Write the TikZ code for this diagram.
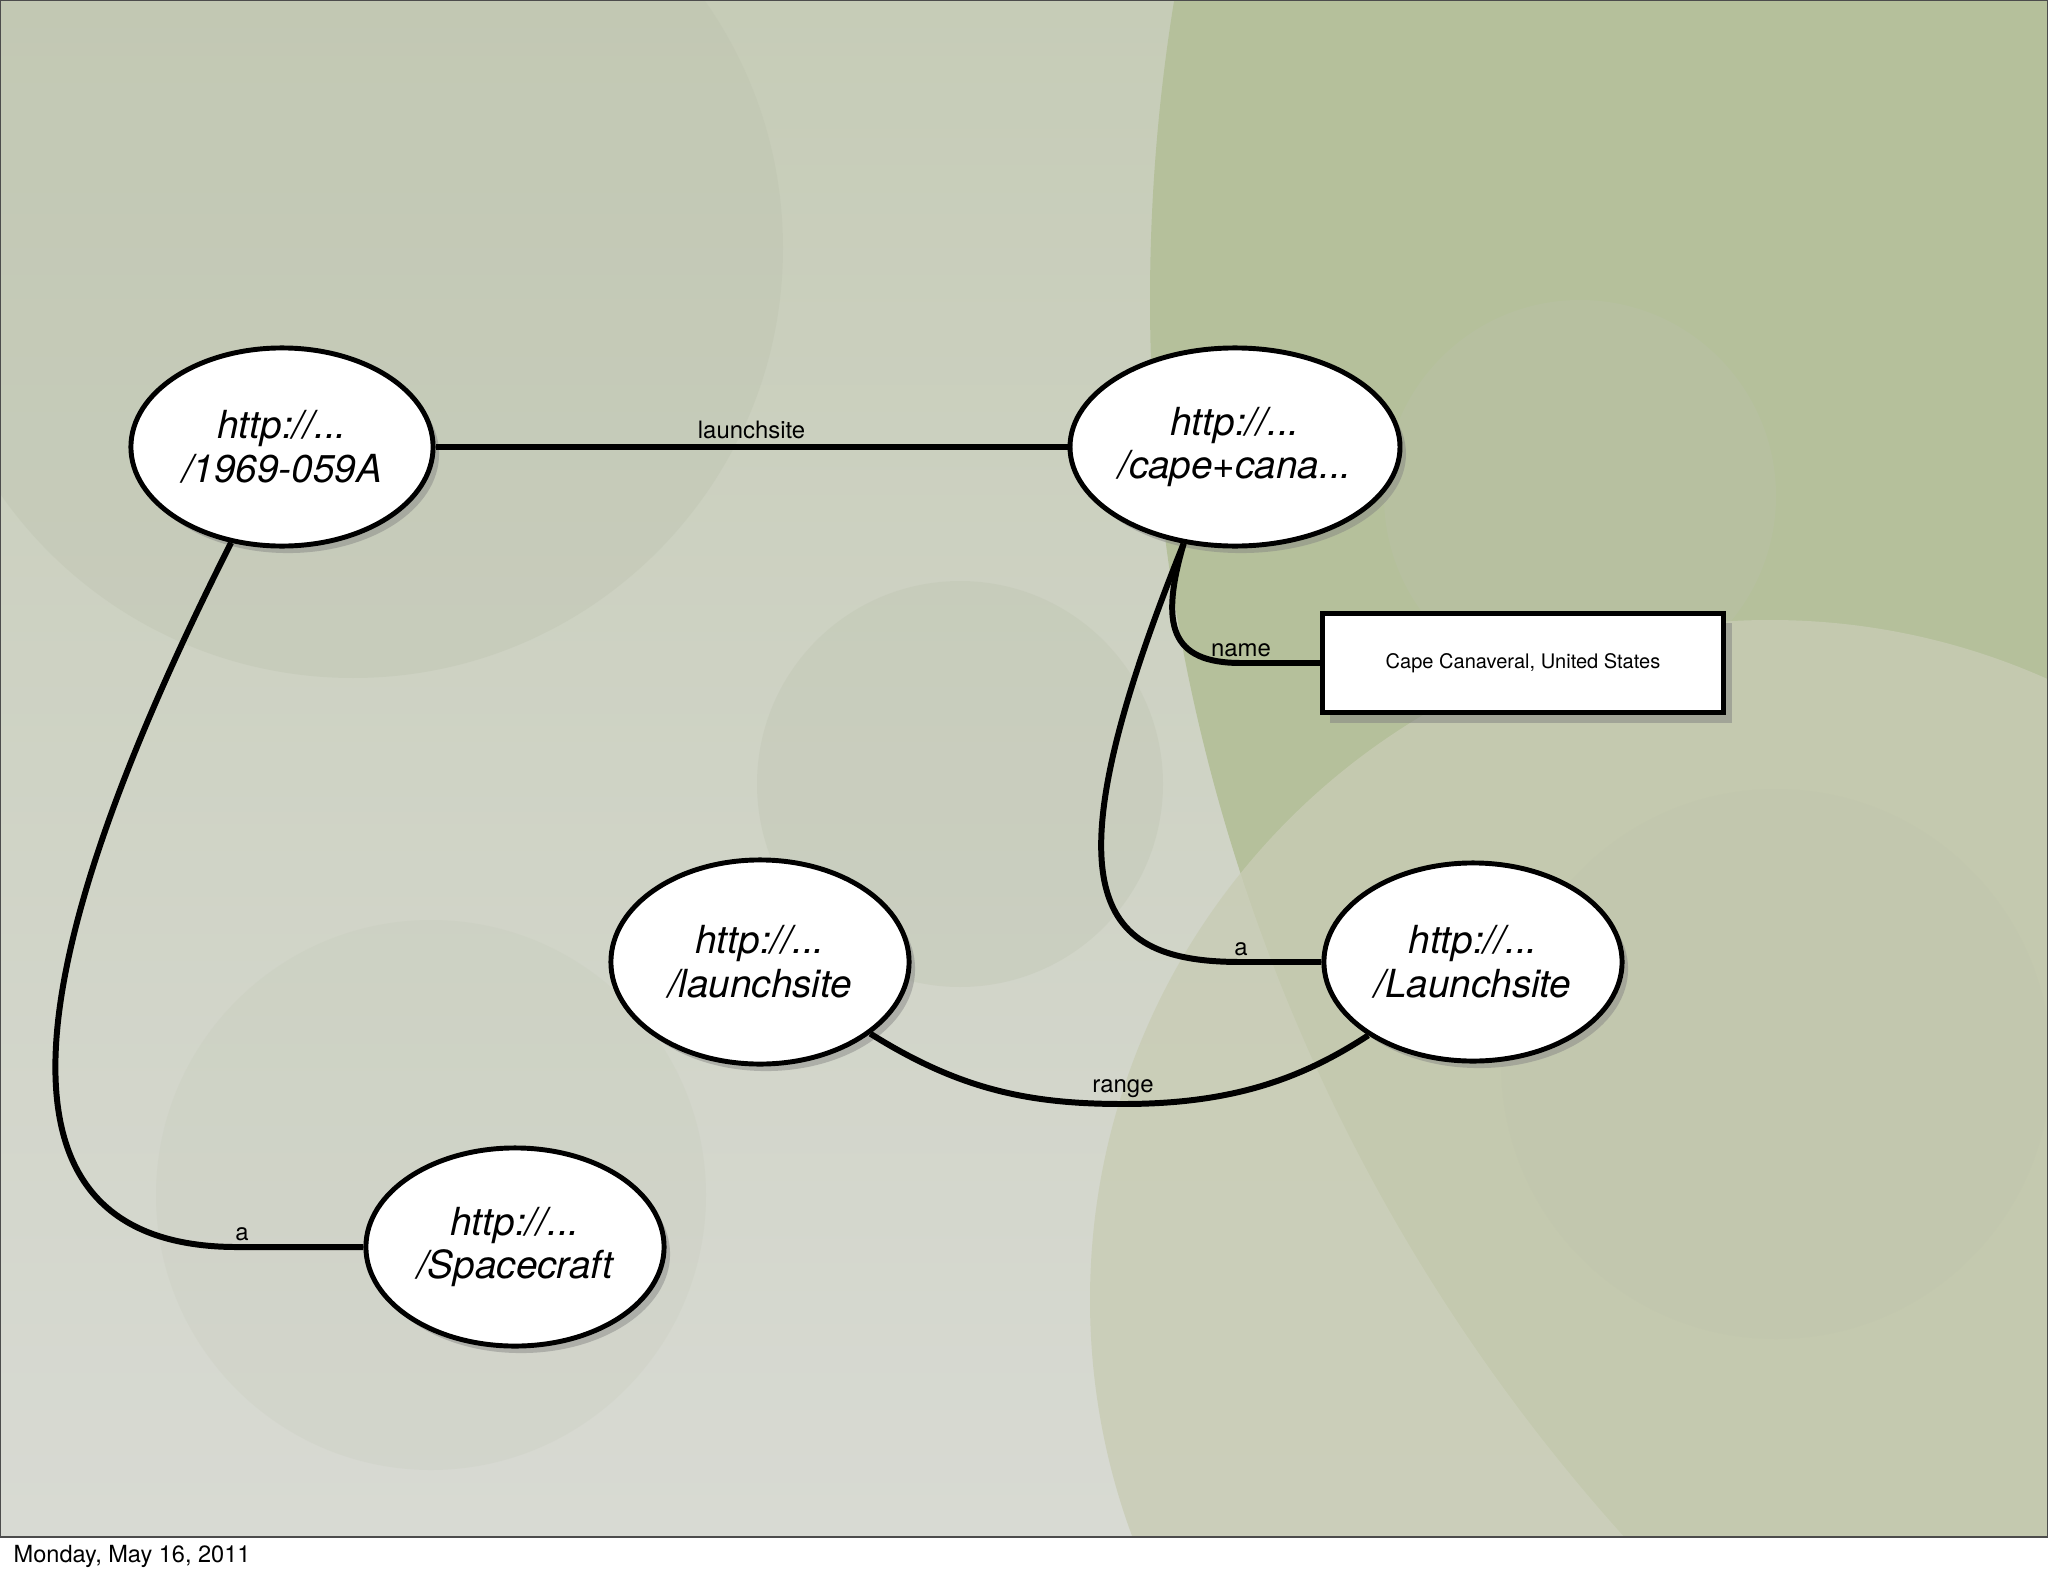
\documentclass[tikz,border=0pt]{standalone}
\usepackage{fontspec}
\setmainfont{TeX Gyre Heros}
\usetikzlibrary{shapes.geometric,shadows}
\definecolor{slidetop}{HTML}{C6CCB7}
\definecolor{slidebottom}{HTML}{D8DAD3}
\definecolor{slidegreen}{HTML}{B5C09B}
\definecolor{slidemoss}{HTML}{C8CCB4}
\definecolor{slidedark}{HTML}{BCC2AE}

\begin{document}
\begin{tikzpicture}[x=0.01cm,y=-0.01cm,
  uri/.style={ellipse,draw,line width=1.4pt,fill=white,minimum width=2.98cm,
    minimum height=1.98cm,inner sep=0pt,align=center,
    font=\itshape\fontsize{11}{12.5}\selectfont,
    drop shadow={shadow xshift=0.06cm,shadow yshift=-0.07cm,opacity=0.45}},
  literal/.style={rectangle,draw,line width=1.5pt,fill=white,minimum width=4.01cm,
    minimum height=0.99cm,font=\fontsize{5.7}{7}\selectfont,
    drop shadow={shadow xshift=0.08cm,shadow yshift=-0.1cm,opacity=0.5}},
  link/.style={line width=1.7pt},
  lbl/.style={font=\fontsize{6.8}{8}\selectfont,inner sep=1.5pt}]
  \useasboundingbox (0,0) rectangle (2048,1576);
  \begin{scope}
    \clip (0,0) rectangle (2048,1537);
    \shade[top color=slidetop,bottom color=slidebottom] (0,0) rectangle (2048,1537);
    \fill[slidedark,opacity=0.35] (353,248) circle (430);
    \fill[slidegreen] (3000,300) circle (1850);
    \fill[slidemoss,opacity=0.8] (1770,1300) circle (680);
    \fill[slidedark,opacity=0.2] (1776,1064) circle (275);
    \fill[slidedark,opacity=0.3] (1580,496) circle (196);
    \fill[slidedark,opacity=0.3] (960,784) circle (203);
    \fill[slidedark,opacity=0.15] (431,1195) circle (275);
  \end{scope}
  \draw[gray!60!black,line width=0.5pt] (0,0) rectangle (2048,1537);

  \node[uri,minimum width=3.02cm] (sat) at (282,447) {http://...\\/1969-059A};
  \node[uri] (cape) at (1235,447) {http://...\\/cape+cana...};
  \node[uri,minimum height=2.04cm] (prop) at (760,962) {http://...\\/launchsite};
  \node[uri] (cls) at (1473,962) {http://...\\/Launchsite};
  \node[uri] (craft) at (515,1247) {http://...\\/Spacecraft};
  \node[literal] (lit) at (1523,663) {Cape Canaveral, United States};

  \coordinate (bendA) at (242,1247);
  \coordinate (bendN) at (1241,663);
  \coordinate (bendB) at (1241,962);
  \coordinate (low) at (1123,1104);

  \draw[link] (sat.east) -- node[lbl,above] {launchsite} (cape.west);
  \draw[link] (sat.242) .. controls (0,1000) and (-10,1250) .. (bendA) -- (craft.west);
  \draw[link] (cape.242) .. controls (1160,625) and (1170,663) .. (bendN) -- (lit.west);
  \draw[link] (cape.242) .. controls (1040,900) and (1100,962) .. (bendB) -- (cls.west);
  \draw[link] (prop.-33) .. controls (960,1090) and (1030,1104) .. (low)
    .. controls (1230,1104) and (1300,1080) .. (cls.-145);
  \node[lbl,above] at (bendA) {a};
  \node[lbl,above] at (bendN) {name};
  \node[lbl,above] at (bendB) {a};
  \node[lbl,above] at (low) {range};

  \node[anchor=west,inner sep=0pt,font=\fontsize{6.7}{8}\selectfont] (date) at (13,1556) {Monday, May 16, 2011};
\end{tikzpicture}
\end{document}
